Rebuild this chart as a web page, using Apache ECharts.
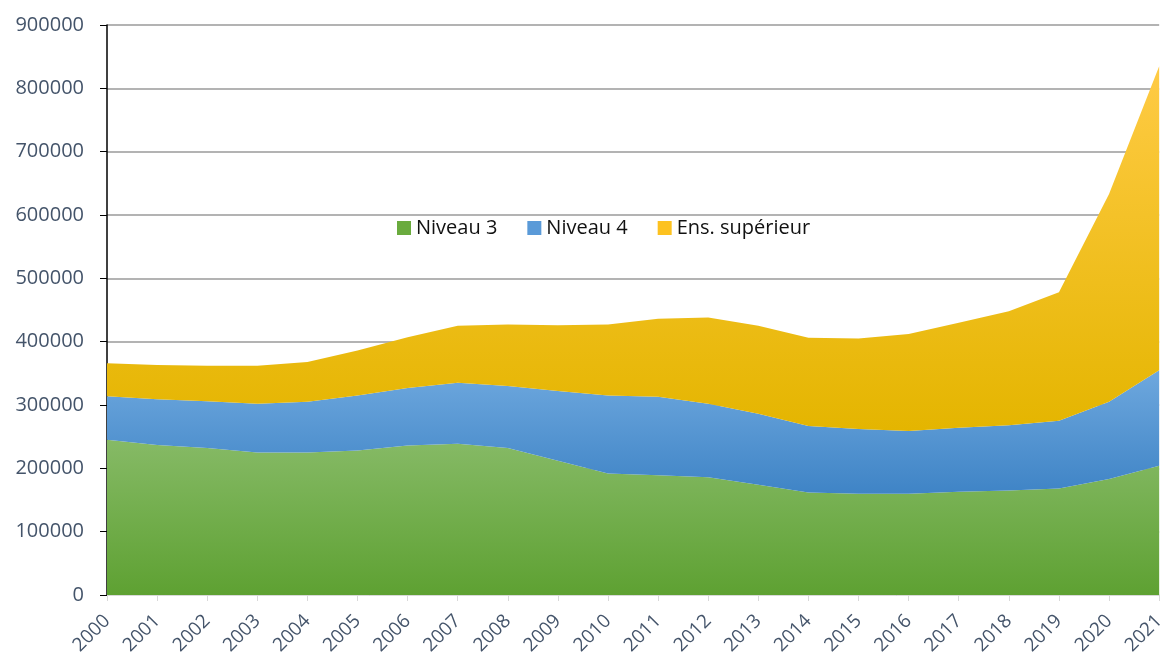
<!DOCTYPE html>
<html><head><meta charset="utf-8">
<script src="https://cdn.jsdelivr.net/npm/echarts@6/dist/echarts.min.js"></script>
<style>html,body{margin:0;padding:0;background:#fff}#c{width:1168px;height:659px}</style>
</head><body><div id="c"></div>
<script>
const years = ['2000','2001','2002','2003','2004','2005','2006','2007','2008','2009','2010','2011','2012','2013','2014','2015','2016','2017','2018','2019','2020','2021'];
const niveau3 = [245000,237000,232000,225000,225000,228000,236000,239000,232000,212000,192000,189000,186000,174000,162000,160000,160000,163000,165000,168000,183000,204000];
const niveau4 = [69000,72000,74000,77000,80000,87000,91000,96000,98000,110000,123000,124000,116000,112000,105000,102000,99000,101000,103000,107000,122000,151000];
const ensSup = [52000,54000,56000,60000,63000,71000,80000,90000,97000,104000,112000,123000,136000,139000,139000,143000,153000,166000,180000,203000,328000,480000];
const seriesNames = ['Niveau 3','Niveau 4','Ens. supérieur'];

const font = 'Open Sans, Noto Sans, sans-serif';
const grad = (a,b)=>new echarts.graphic.LinearGradient(0,0,0,1,[{offset:0,color:a},{offset:1,color:b}]);
const mk = (name,data,fill,icon)=>({
  name, type:'line', stack:'total', data, symbol:'none', smooth:false,
  lineStyle:{width:0}, areaStyle:{color:fill,opacity:1}, itemStyle:{color:icon}
});
const chart = echarts.init(document.getElementById('c'));
chart.setOption({
  animation:false,
  grid:{left:107,right:6,top:25,bottom:64,containLabel:false},
  legend:{
    data:seriesNames, left:392, top:213, itemWidth:14, itemHeight:14, itemGap:30,
    icon:'rect', textStyle:{fontFamily:font,fontSize:20,color:'#111'}
  },
  xAxis:{
    type:'category', data:years, boundaryGap:false,
    axisLine:{lineStyle:{color:'#d9d9d9',width:1}},
    axisTick:{show:true,length:6,lineStyle:{color:'#d9d9d9'}},
    axisLabel:{rotate:45,fontFamily:font,fontSize:19,color:'#44546a',margin:23}
  },
  yAxis:{
    type:'value', min:0, max:900000, interval:100000,
    axisLine:{show:true,lineStyle:{color:'#000',width:1.5}},
    axisTick:{show:true,length:7,lineStyle:{color:'#000'}},
    splitLine:{lineStyle:{color:'#b3b3b3',width:2}},
    axisLabel:{fontFamily:font,fontSize:20,color:'#44546a',margin:23,formatter:v=>String(v)}
  },
  series:[
    mk(seriesNames[0],niveau3,grad('#86ba66','#5ea132'),'#6aab3e'),
    mk(seriesNames[1],niveau4,grad('#6ea8de','#3f84c6'),'#5a9ad8'),
    mk(seriesNames[2],ensSup,grad('#ffcb45','#e4b500'),'#fdc220')
  ]
});
</script></body></html>
